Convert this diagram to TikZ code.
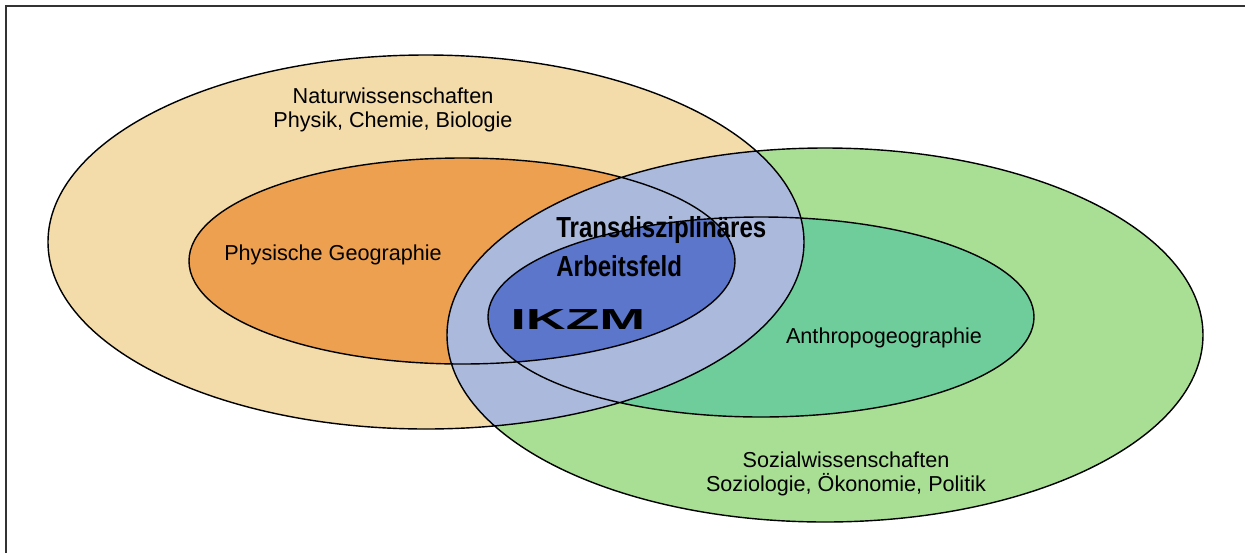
\documentclass[tikz,border=0pt]{standalone}
\usepackage{fontspec}
\setmainfont{Liberation Sans}
\newfontfamily\tdfont{Liberation Sans}[FakeStretch=0.83]
\newfontfamily\ikzmfont{Liberation Sans}[FakeStretch=1.9]
\definecolor{natcolor}{RGB}{243,219,170}
\definecolor{physcolor}{RGB}{236,160,80}
\definecolor{sozcolor}{RGB}{169,223,149}
\definecolor{anthrocolor}{RGB}{110,205,155}
\definecolor{tdcolor}{RGB}{171,186,220}
\definecolor{ikzmcolor}{RGB}{91,118,202}
\tikzset{area line/.style={draw=black,line width=0.8pt},
  area label/.style={font=\fontsize{12.3}{13.6}\selectfont,align=center,inner sep=0pt},
  frame line/.style={draw=black!80,line width=0.4mm}}
\newcommand{\natpath}{(426,242) ellipse [x radius=378,y radius=187]}
\newcommand{\sozpath}{(825,335) ellipse [x radius=378,y radius=187]}
\newcommand{\physpath}{(462,261) ellipse [x radius=273,y radius=103]}
\newcommand{\anthropath}{(761,317) ellipse [x radius=273,y radius=100]}

\begin{document}
\begin{tikzpicture}[x=0.2mm,y=-0.2mm]
            \useasboundingbox (0,0) rectangle (1245,553);
            \draw[frame line] (6,553) -- (6,6) -- (1245,6);

            \fill[natcolor] \natpath;
            \fill[sozcolor] \sozpath;
            \fill[physcolor] \physpath;
            \fill[anthrocolor] \anthropath;
            \begin{scope}
                \clip \natpath;
                \fill[tdcolor] \sozpath;
            \end{scope}
            \begin{scope}
                \clip \physpath;
                \fill[ikzmcolor] \anthropath;
            \end{scope}
            \path[area line] \natpath \sozpath \physpath \anthropath;

            \node[area label] (nat) at (393,110) {Naturwissenschaften\\Physik, Chemie, Biologie};
            \node[area label] (phys) at (333,255) {Physische Geographie};
            \node[area label] (anthro) at (884,338) {Anthropogeographie};
            \node[area label] (soz) at (846,474) {Sozialwissenschaften\\Soziologie, Ökonomie, Politik};
            \node[area label,font=\tdfont\bfseries\fontsize{16.5}{22.2}\selectfont,align=left,anchor=north west] (td) at (556,216) {Transdisziplinäres\\Arbeitsfeld};
            \node[area label,font=\ikzmfont\bfseries\fontsize{16.5}{18}\selectfont] (ikzm) at (578,320) {IKZM};
        \end{tikzpicture}
\end{document}
